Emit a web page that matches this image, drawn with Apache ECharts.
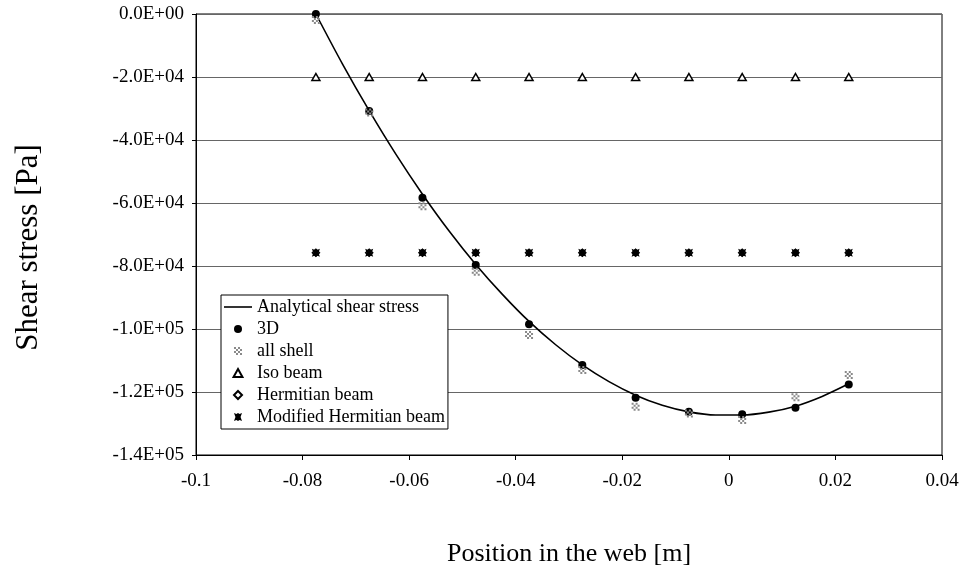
<!DOCTYPE html>
<html>
<head>
<meta charset="utf-8">
<script src="https://cdn.jsdelivr.net/npm/echarts@6/dist/echarts.min.js"></script>
<style>html,body{margin:0;padding:0;background:#fff}#c{width:964px;height:575px}</style>
</head>
<body>
<div id="c"></div>
<script>
// Positions of the sample points [m]
var positions = [-0.0775, -0.0675, -0.0575, -0.0475, -0.0375, -0.0275, -0.0175, -0.0075, 0.0025, 0.0125, 0.0225];
// Analytical curve sample positions and values
var analyticalX = [-0.0775, -0.0725, -0.0675, -0.0625, -0.0575, -0.0525, -0.0475, -0.0425, -0.0375, -0.0325, -0.0275, -0.0225, -0.0175, -0.0125, -0.0075, -0.0025, 0.0025, 0.0075, 0.0125, 0.0175, 0.0225];
var analyticalY = [0, -15900, -30700, -44500, -57200, -68900, -79500, -89000, -97600, -105000, -111400, -116700, -121000, -124200, -126300, -127300, -127300, -126400, -124500, -121400, -117400];
var solid3D = [0, -30800, -58300, -79700, -98500, -111400, -121800, -126250, -127100, -125000, -117600];
var allShell = [-1900, -31300, -61000, -81800, -101900, -113000, -124700, -126800, -128900, -121700, -114600];
var isoBeam = [-20000, -20000, -20000, -20000, -20000, -20000, -20000, -20000, -20000, -20000, -20000];
var hermitianBeam = [-75800, -75800, -75800, -75800, -75800, -75800, -75800, -75800, -75800, -75800, -75800];
var modHermitianBeam = [-75800, -75800, -75800, -75800, -75800, -75800, -75800, -75800, -75800, -75800, -75800];
var xTicks = {min: -0.1, max: 0.04, interval: 0.02};
var yTicks = {min: -140000, max: 0, interval: 20000};
var seriesNames = ['Analytical shear stress', '3D', 'all shell', 'Iso beam', 'Hermitian beam', 'Modified Hermitian beam'];

function pair(xs, ys) { return xs.map(function (x, i) { return [x, ys[i]]; }); }
function sci(v) {
  if (v === 0) return '0.0E+00';
  var s = v.toExponential(1).toUpperCase();
  var m = s.split('E');
  var e = parseInt(m[1], 10);
  var es = (e < 0 ? '-' : '+') + (Math.abs(e) < 10 ? '0' : '') + Math.abs(e);
  return m[0] + 'E' + es;
}
var FONT = '"Liberation Serif", "Times New Roman", serif';
var shellPath = 'path://M0,0h2v2h-2z M4,0h2v2h-2z M2,2h2v2h-2z M6,2h2v2h-2z M0,4h2v2h-2z M4,4h2v2h-2z M2,6h2v2h-2z M6,6h2v2h-2z';
var starPath = 'path://M0,0 L3,1.2 L5,0 L7,1.2 L10,0 L8.2,5 L10,10 L7,8.8 L5,10 L3,8.8 L0,10 L1.8,5 Z';
var triPath = 'path://M5,0 L10,9 L0,9 Z';
var diaPath = 'path://M5,0 L10,5 L5,10 L0,5 Z';
var linePath = 'path://M0,0 L28,0 L28,1.6 L0,1.6 Z';

var chart = echarts.init(document.getElementById('c'), null, {renderer: 'canvas'});
chart.setOption({
  animation: false,
  backgroundColor: '#fff',
  grid: {left: 196, right: 22, top: 14, bottom: 120, show: true, borderColor: '#000', borderWidth: 1, backgroundColor: 'transparent'},
  xAxis: {
    type: 'value', min: xTicks.min, max: xTicks.max, interval: xTicks.interval,
    name: 'Position in the web [m]', nameLocation: 'middle', nameGap: 86,
    nameTextStyle: {fontFamily: FONT, fontSize: 26, color: '#000'},
    axisLine: {onZero: false, lineStyle: {color: '#000', width: 1}},
    axisTick: {show: true, inside: false, length: 5, lineStyle: {color: '#000'}},
    axisLabel: {fontFamily: FONT, fontSize: 19, color: '#000', margin: 17,
      formatter: function (v) { return String(parseFloat(v.toFixed(3))); }},
    splitLine: {show: false}
  },
  yAxis: {
    type: 'value', min: yTicks.min, max: yTicks.max, interval: yTicks.interval,
    name: 'Shear stress [Pa]', nameLocation: 'middle', nameGap: 152, nameRotate: 90,
    nameTextStyle: {fontFamily: FONT, fontSize: 31, color: '#000', padding: [0, 26, 0, 0]},
    axisLine: {onZero: false, lineStyle: {color: '#000', width: 1}},
    axisTick: {show: true, inside: false, length: 4, lineStyle: {color: '#000'}},
    axisLabel: {fontFamily: FONT, fontSize: 19, color: '#000', margin: 12, formatter: sci},
    splitLine: {show: true, lineStyle: {color: '#666', width: 1}}
  },
  legend: {
    orient: 'vertical', left: 221, top: 295,
    backgroundColor: '#fff', borderColor: '#000', borderWidth: 1,
    padding: [3, 3, 3, 3],
    itemWidth: 28, itemHeight: 8, itemGap: 4, symbolKeepAspect: true,
    textStyle: {fontFamily: FONT, fontSize: 18, color: '#000', lineHeight: 18},
    data: [
      {name: seriesNames[0], icon: linePath},
      {name: seriesNames[1], icon: 'circle'},
      {name: seriesNames[2], icon: shellPath},
      {name: seriesNames[3], icon: triPath},
      {name: seriesNames[4], icon: diaPath},
      {name: seriesNames[5], icon: starPath}
    ]
  },
  series: [
    {name: seriesNames[0], type: 'line', data: pair(analyticalX, analyticalY), smooth: 0.3, showSymbol: false, symbol: 'none',
      lineStyle: {color: '#000', width: 1.6}, itemStyle: {color: '#000'}, z: 2},
    {name: seriesNames[1], type: 'scatter', data: pair(positions, solid3D), symbol: 'circle', symbolSize: 8,
      itemStyle: {color: '#000', opacity: 1}, z: 3},
    {name: seriesNames[2], type: 'scatter', data: pair(positions, allShell), symbol: shellPath, symbolSize: 8,
      itemStyle: {color: '#8a8a8a', opacity: 1}, z: 4},
    {name: seriesNames[3], type: 'scatter', data: pair(positions, isoBeam), symbol: triPath, symbolSize: [8, 7],
      itemStyle: {color: '#fff', borderColor: '#000', borderWidth: 1.5, opacity: 1}, z: 3},
    {name: seriesNames[4], type: 'scatter', data: pair(positions, hermitianBeam), symbol: diaPath, symbolSize: 7,
      itemStyle: {color: '#fff', borderColor: '#000', borderWidth: 1.5, opacity: 1}, z: 3},
    {name: seriesNames[5], type: 'scatter', data: pair(positions, modHermitianBeam), symbol: starPath, symbolSize: 8,
      itemStyle: {color: '#000', opacity: 1}, z: 5}
  ]
});
</script>
</body>
</html>
